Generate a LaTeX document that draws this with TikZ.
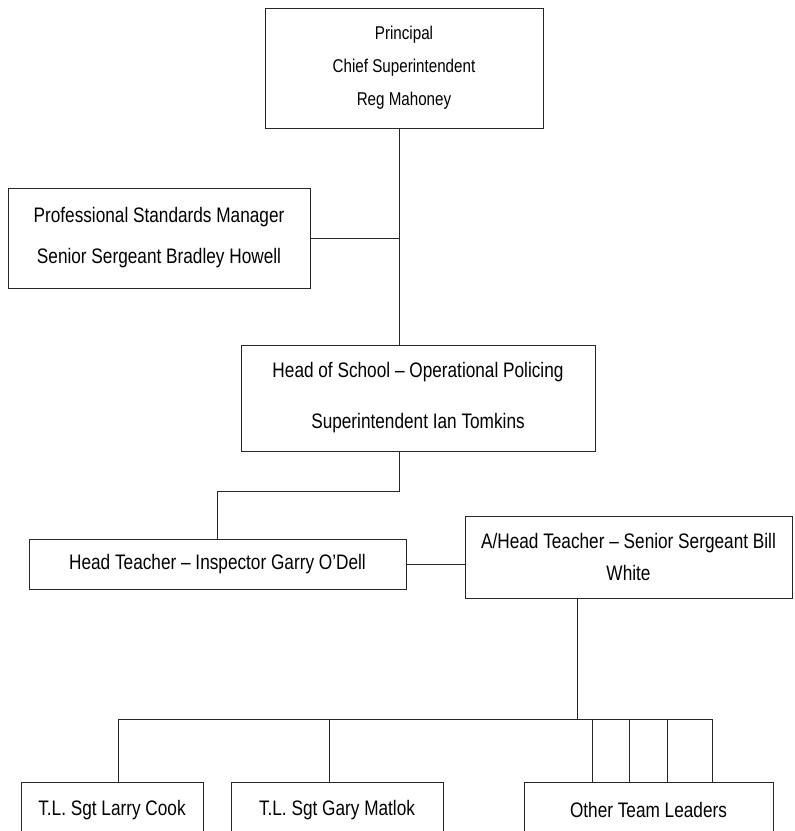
\documentclass[tikz,border=0pt]{standalone}
\usepackage{fontspec}
\setmainfont[FakeStretch=0.82]{Liberation Sans}
\usetikzlibrary{calc}

\begin{document}
\begin{tikzpicture}[x=1pt,y=-1pt,line width=0.8pt,
  box/.style={draw=black!85,align=center,inner sep=0pt,font=\fontsize{21}{25}\selectfont},
  link/.style={draw=black!85}]
\useasboundingbox (0,0) rectangle (795,831);
\clip (0,0) rectangle (795,831);

\node[box,minimum width=278pt,minimum height=120pt,font=\fontsize{18.5}{33}\selectfont] (principal) at (404,68) {Principal\\Chief Superintendent\\Reg Mahoney};
\node[box,minimum width=302pt,minimum height=100pt] (psm) at (159,238) {Professional Standards Manager\\[16pt]Senior Sergeant Bradley Howell};
\node[box,minimum width=354pt,minimum height=106pt] (hos) at (418,398) {Head of School – Operational Policing\\[26pt]Superintendent Ian Tomkins};

\node[box,minimum width=377pt,minimum height=50pt] (ht) at (217.5,564) {Head Teacher – Inspector Garry O’Dell};
\node[box,minimum width=327pt,minimum height=82pt,font=\fontsize{21}{32}\selectfont] (aht) at (628.5,557) {A/Head Teacher – Senior Sergeant Bill\\White};

\node[box,minimum width=182pt,minimum height=56pt] (larry) at (112,810) {T.L. Sgt Larry Cook};
\node[box,minimum width=212pt,minimum height=56pt] (gary) at (337,810) {T.L. Sgt Gary Matlok};
\node[box,minimum width=249pt,minimum height=56pt] (others) at (648.5,810) {Other Team Leaders};

% upper spine
\coordinate (spine) at (399,0);
\draw[link] (principal.south -| spine) -- (hos.north -| spine);
\draw[link] (psm.east) -- (psm.east -| spine);

% head of school to teachers
\draw[link] (hos.south -| spine) -- ++(0,40) -| (ht.north);
\draw[link] (ht.east) -- (ht.east -| aht.west);

% team leaders
\coordinate (trunk) at (577,0);
\draw[link] (aht.south -| trunk) -- ++(0,122);
\draw[link] ($(larry.north)+(6,0)$) -- ++(0,-62) -- ($(others.north)+(63.5,-62)$) -- ++(0,62);
\draw[link] ($(gary.north)+(-8,0)$) -- ++(0,-62);
\foreach \dx in {-56.5,-19.5,18.5}
  \draw[link] ($(others.north)+(\dx,0)$) -- ++(0,-62);

\end{tikzpicture}
\end{document}
